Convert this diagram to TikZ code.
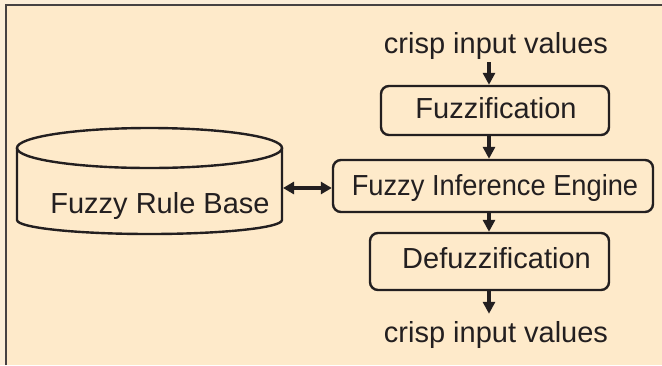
\documentclass[tikz,border=0pt]{standalone}
\usepackage{fontspec}
\setmainfont{Liberation Sans}
\usetikzlibrary{arrows.meta}
\definecolor{outerbg}{RGB}{252,238,216}
\definecolor{innerbg}{RGB}{254,234,202}
\definecolor{ink}{RGB}{35,31,32}
\definecolor{framec}{RGB}{70,66,66}
\tikzset{
  procbox/.style={draw=ink, line width=2.4pt, rounded corners=8pt, inner sep=0pt, text=ink,
    font=\fontsize{29}{34}\selectfont},
  lbl/.style={text=ink, inner sep=0pt, font=\fontsize{29}{34}\selectfont},
  flow/.style={draw=ink, line width=3.5pt, -{Triangle[width=12pt,length=12pt]}},
  bflow/.style={draw=ink, line width=3.5pt, {Triangle[width=12pt,length=11pt]}-{Triangle[width=12pt,length=11pt]}},
  cyl/.style={draw=ink, line width=2.4pt}
}
\begin{document}
\begin{tikzpicture}[x=1pt,y=-1pt]
\useasboundingbox (0,0) rectangle (662,365);
\fill[outerbg] (0,0) rectangle (662,365);
\fill[innerbg] (5,4) rectangle (662,365);
\draw[framec, line width=2pt] (5.5,365) -- (5.5,4.5) -- (662,4.5);

% column of arrows
\coordinate (ax) at (489,0);

% texts and boxes
\node[lbl, anchor=base, inner ysep=3pt] (in) at (496,53) {crisp input values};
\node[procbox, minimum width=228pt, minimum height=49pt] (fuzz) at (495,110.5) {};
\node[lbl, anchor=base] (fuzzt) at (496,118) {Fuzzification};
\node[procbox, minimum width=320pt, minimum height=52pt] (fie) at (493,186) {};
\node[lbl, anchor=base] (fiet) at (495,195) {\scalebox{0.94}[1]{Fuzzy Inference Engine}};
\node[procbox, minimum width=239pt, minimum height=57pt] (defuzz) at (489.5,261.5) {};
\node[lbl, anchor=base] (defuzzt) at (496.5,268) {Defuzzification};
\node[lbl, anchor=base] (out) at (496,342) {crisp input values};

% cylinder (rule base)
\draw[cyl] (17,148) -- (17,220) arc[start angle=180, end angle=0, x radius=132.5, y radius=14] -- (282,148);
\draw[cyl] (149.5,148) ellipse[x radius=132.5, y radius=20];
\node[lbl, anchor=base] (rbt) at (160,213) {Fuzzy Rule Base};
\coordinate (rbr) at (283,188);

% connectors
\draw[flow] (in.south -| ax) -- (fuzz.north -| ax);
\draw[flow] (fuzz.south -| ax) -- (fie.north -| ax);
\draw[flow] (fie.south -| ax) -- (defuzz.north -| ax);
\draw[flow, shorten >=7pt] (defuzz.south -| ax) -- (out.north -| ax);
\draw[bflow] (rbr) -- (rbr -| fie.west);
\end{tikzpicture}
\end{document}
